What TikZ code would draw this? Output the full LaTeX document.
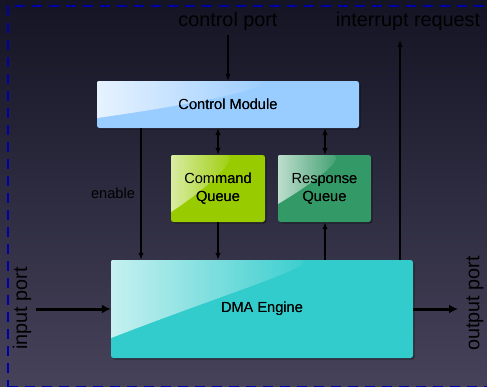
\documentclass[tikz,border=0pt]{standalone}
\usepackage{fontspec}
\setmainfont{Liberation Sans}
\usetikzlibrary{arrows.meta}
\definecolor{bgtop}{RGB}{20,20,36}
\definecolor{bgbot}{RGB}{70,66,90}
\definecolor{bordblue}{RGB}{0,0,170}
\definecolor{cmcol}{RGB}{153,204,255}
\definecolor{cqcol}{RGB}{153,204,0}
\definecolor{rqcol}{RGB}{51,153,102}
\definecolor{dmacol}{RGB}{51,204,204}
\tikzset{
  x=1pt, y=-1pt,
  blk/.style={rounded corners=2.5pt, inner sep=0pt, align=center, font=\fontsize{14.6}{18}\selectfont, text=black},
  sig/.style={line width=1.3pt, -{Latex[length=7pt,width=5.5pt]}},
  bisig/.style={line width=1.3pt, {Latex[length=7pt,width=5.5pt]}-{Latex[length=7pt,width=5.5pt]}},
  bus/.style={line width=3pt, -{Latex[length=9pt,width=9pt]}},
  biglbl/.style={font=\fontsize{19.8}{22}\selectfont, text=black, inner sep=0pt},
  smalllbl/.style={font=\fontsize{14.6}{17}\selectfont, text=black, inner sep=0pt}
}
\begin{document}
\begin{tikzpicture}
\useasboundingbox (0,0) rectangle (487,386);
\shade[top color=bgtop, bottom color=bgbot] (0,0) rectangle (487,386);
\draw[bordblue, line width=2pt, dash pattern=on 10pt off 7pt] (8,390) -- (8,6) -- (495,6);
\draw[bordblue, line width=2pt, dash pattern=on 10pt off 7pt] (8,387) -- (495,387);

% shadows
\foreach \a/\b/\c/\d in {97/81/359/128, 171/155/265/222, 278/155/371/222, 111/260/413/358}{
  \fill[black, opacity=0.35, rounded corners=2.5pt] (\a+1.5,\b+1.5) rectangle (\c+1.5,\d+1.5);
}

% boxes
\node[blk, fill=cmcol, minimum width=262pt, minimum height=47pt] (cm) at (228,104.5) {Control Module};
\node[blk, fill=cqcol, minimum width=94pt, minimum height=67pt] (cq) at (218,188.5) {Command\\Queue};
\node[blk, fill=rqcol, minimum width=93pt, minimum height=67pt] (rq) at (324.5,188.5) {Response\\Queue};
\node[blk, fill=dmacol, minimum width=302pt, minimum height=98pt] (dma) at (262,309) {DMA Engine};

% gloss highlights
\begin{scope}
  \clip[rounded corners=2.5pt] (cm.north west) rectangle (cm.south east);
  \shade[left color=white!85!cmcol, right color=cmcol, opacity=0.9]
    (97,81) -- (262,81) .. controls (275,88) and (190,105) .. (97,118) -- cycle;
\end{scope}
\begin{scope}
  \clip[rounded corners=2.5pt] (cq.north west) rectangle (cq.south east);
  \shade[left color=white!70!cqcol, right color=cqcol, opacity=0.9]
    (171,155) -- (228,155) .. controls (238,160) and (205,190) .. (171,212) -- cycle;
\end{scope}
\begin{scope}
  \clip[rounded corners=2.5pt] (rq.north west) rectangle (rq.south east);
  \shade[left color=white!75!rqcol, right color=rqcol, opacity=0.9]
    (278,155) -- (334,155) .. controls (345,160) and (310,185) .. (278,204) -- cycle;
\end{scope}
\begin{scope}
  \clip[rounded corners=2.5pt] (dma.north west) rectangle (dma.south east);
  \shade[left color=white!80!dmacol, right color=dmacol, opacity=0.9]
    (111,260) -- (302,260) .. controls (318,266) and (230,292) .. (111,338) -- cycle;
\end{scope}
% redraw texts above gloss
\node[blk] at (cm.center) {Control Module};
\node[blk] at (cq.center) {Command\\Queue};
\node[blk] at (rq.center) {Response\\Queue};
\node[blk] at (dma.center) {DMA Engine};

% labels
\node[biglbl] (cport) at (228,21) {control port};
\node[biglbl] (irq) at (408,21.5) {interrupt request};
\node[biglbl, rotate=90] (inport) at (22,308.5) {input port};
\node[biglbl, rotate=90] (outport) at (475,303.5) {output port};
\node[smalllbl] (en) at (113,193) {enable};

\coordinate (cpend) at (228,35);
\coordinate (irqend) at (400,40);
\coordinate (inend) at (36,309);
\coordinate (outend) at (458,309);

% connectors
\draw[sig] (cpend) -- (cm.north);
\draw[sig] (cm.south -| 141,0) -- (dma.north -| 141,0);
\draw[bisig] (cm.south -| cq.north) -- (cq.north);
\draw[bisig] (cm.south -| 325,0) -- (rq.north -| 325,0);
\draw[sig] (cq.south) -- (dma.north -| cq.south);
\draw[sig] (dma.north -| 325,0) -- (rq.south -| 325,0);
\draw[sig] (dma.north -| irqend) -- (irqend);
\draw[bus] (inend) -- (dma.west |- inend);
\draw[bus] (dma.east |- outend) -- (outend);
\end{tikzpicture}
\end{document}
